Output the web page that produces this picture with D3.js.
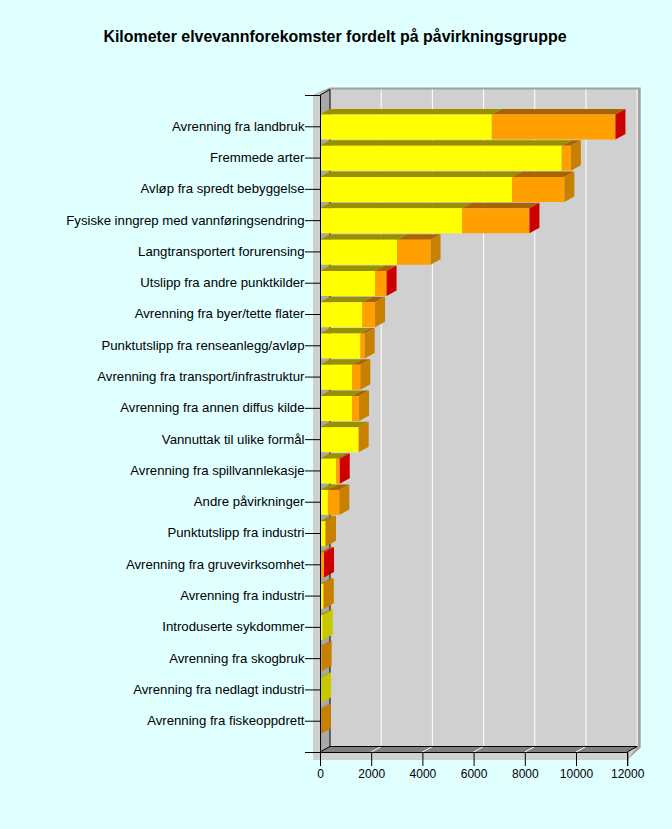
<!DOCTYPE html>
<html><head><meta charset="utf-8">
<script src="https://cdn.jsdelivr.net/npm/d3@7/dist/d3.min.js"></script>
<style>html,body{margin:0;padding:0;background:#e0ffff}svg{display:block}text{font-family:"Liberation Sans",Arial,sans-serif}</style>
</head><body><div id="c"></div>
<script>
const categories=["Avrenning fra landbruk","Fremmede arter","Avløp fra spredt bebyggelse","Fysiske inngrep med vannføringsendring","Langtransportert forurensing","Utslipp fra andre punktkilder","Avrenning fra byer/tette flater","Punktutslipp fra renseanlegg/avløp","Avrenning fra transport/infrastruktur","Avrenning fra annen diffus kilde","Vannuttak til ulike formål","Avrenning fra spillvannlekasje","Andre påvirkninger","Punktutslipp fra industri","Avrenning fra gruvevirksomhet","Avrenning fra industri","Introduserte sykdommer","Avrenning fra skogbruk","Avrenning fra nedlagt industri","Avrenning fra fiskeoppdrett"];
const yellowValues=[6710,9440,7500,5550,3010,2150,1650,1575,1250,1250,1510,625,310,195,10,130,105,10,40,5];
const orangeValues=[4830,360,2045,2630,1310,450,500,170,325,275,1,145,445,40,146,20,0,55,0,25];
const redValues=[1,0,0,1,0,1,0,0,0,0,0,1,0,0,1,0,0,0,0,0];
const xTicks=[0,2000,4000,6000,8000,10000,12000];
const titleText="Kilometer elvevannforekomster fordelt på påvirkningsgruppe";
const W=672,H=829,dx=10,dy=5.5,bh=25;
const x=d3.scaleLinear().domain([0,12000]).range([320,627.2]);
const y=d3.scalePoint().domain(["__top",...categories,"__bot"]).range([95,752]);
const svg=d3.select("#c").append("svg").attr("width",W).attr("height",H);
svg.append("rect").attr("width",W).attr("height",H).attr("fill","#e0ffff");
svg.append("text").attr("x",335).attr("y",42).attr("text-anchor","middle").attr("font-size",15.95).attr("font-weight","bold").text(titleText);
const T=95,B=752,L=x(0),R=x(12000);
const poly=(p,f)=>svg.append("polygon").attr("points",p.map(q=>q.join(",")).join(" ")).attr("fill",f);
poly([[313,T],[L+dx,87.5],[R+dx+3.5,87.5],[R+dx+3.5,B-dy+1],[R,B+8],[313,B+8]],"#a0a0a0");
poly([[313,T],[L+dx,T-dy],[R+dx,T-dy],[R+dx,B-dy],[R,B+8],[313,B+8]],"#d0d0d0");
xTicks.slice(1).forEach(v=>{
 svg.append("line").attr("x1",x(v)+dx).attr("x2",x(v)+dx).attr("y1",T-dy).attr("y2",B-dy).attr("stroke","#fff");
});
poly([[L,T],[L+dx,T-dy],[L+dx,B-dy],[L,B]],"#a8a8a8");
poly([[L,B],[L+dx,B-dy],[R+dx,B-dy],[R,B]],"#808080");
xTicks.slice(1,-1).forEach(v=>{
 svg.append("line").attr("x1",x(v)).attr("x2",x(v)+dx).attr("y1",B).attr("y2",B-dy).attr("stroke","#fff");
});
const ln=(a,b,c,d)=>svg.append("line").attr("x1",a).attr("y1",b).attr("x2",c).attr("y2",d).attr("stroke","#000");
ln(L+dx,T-dy,L+dx,B-dy);ln(L,T,L+dx,T-dy);ln(L,B,L+dx,B-dy);ln(L+dx,B-dy,R+dx,B-dy);ln(R,B,R+dx,B-dy);
const frontCol=["#ffff00","#ffa000","#d00000"],sideCol=["#c8c800","#c88000","#cc0000"],topCol=["#999000","#a86400","#a00000"];
categories.forEach((c,i)=>{
 const cy=y(c)+0.7,t=cy-bh/2;
 const vals=[yellowValues[i],orangeValues[i],redValues[i]];
 let acc=0,last=0;
 vals.forEach((v,s)=>{
  if(v<=0)return;last=s;
  const a=x(acc),b=x(acc+v);acc+=v;
  poly([[a,t],[a+dx,t-dy],[b+dx,t-dy],[b,t]],topCol[s]);
  poly([[a,t],[b,t],[b,t+bh],[a,t+bh]],frontCol[s]);
 });
 const e=x(acc);
 poly([[e,t],[e+dx,t-dy],[e+dx,t+bh-dy],[e,t+bh]],sideCol[last]);
});
const ax=d3.axisLeft(y).tickValues(y.domain()).tickSize(15).tickPadding(0).tickFormat(d=>d.startsWith("__")?"":d);
const gy=svg.append("g").attr("transform",`translate(${L},0)`).call(ax);
gy.selectAll("text").attr("font-size",13.2).attr("fill","#000").attr("x",-15.5).attr("dy","0.3em");
gy.select(".domain").attr("stroke","#000");
const bx=d3.axisBottom(x).tickValues(xTicks).tickSize(14).tickPadding(3).tickFormat(d3.format("d"));
const gx=svg.append("g").attr("transform",`translate(0,${B})`).call(bx);
gx.selectAll("text").attr("font-size",12).attr("fill","#000");
</script></body></html>
